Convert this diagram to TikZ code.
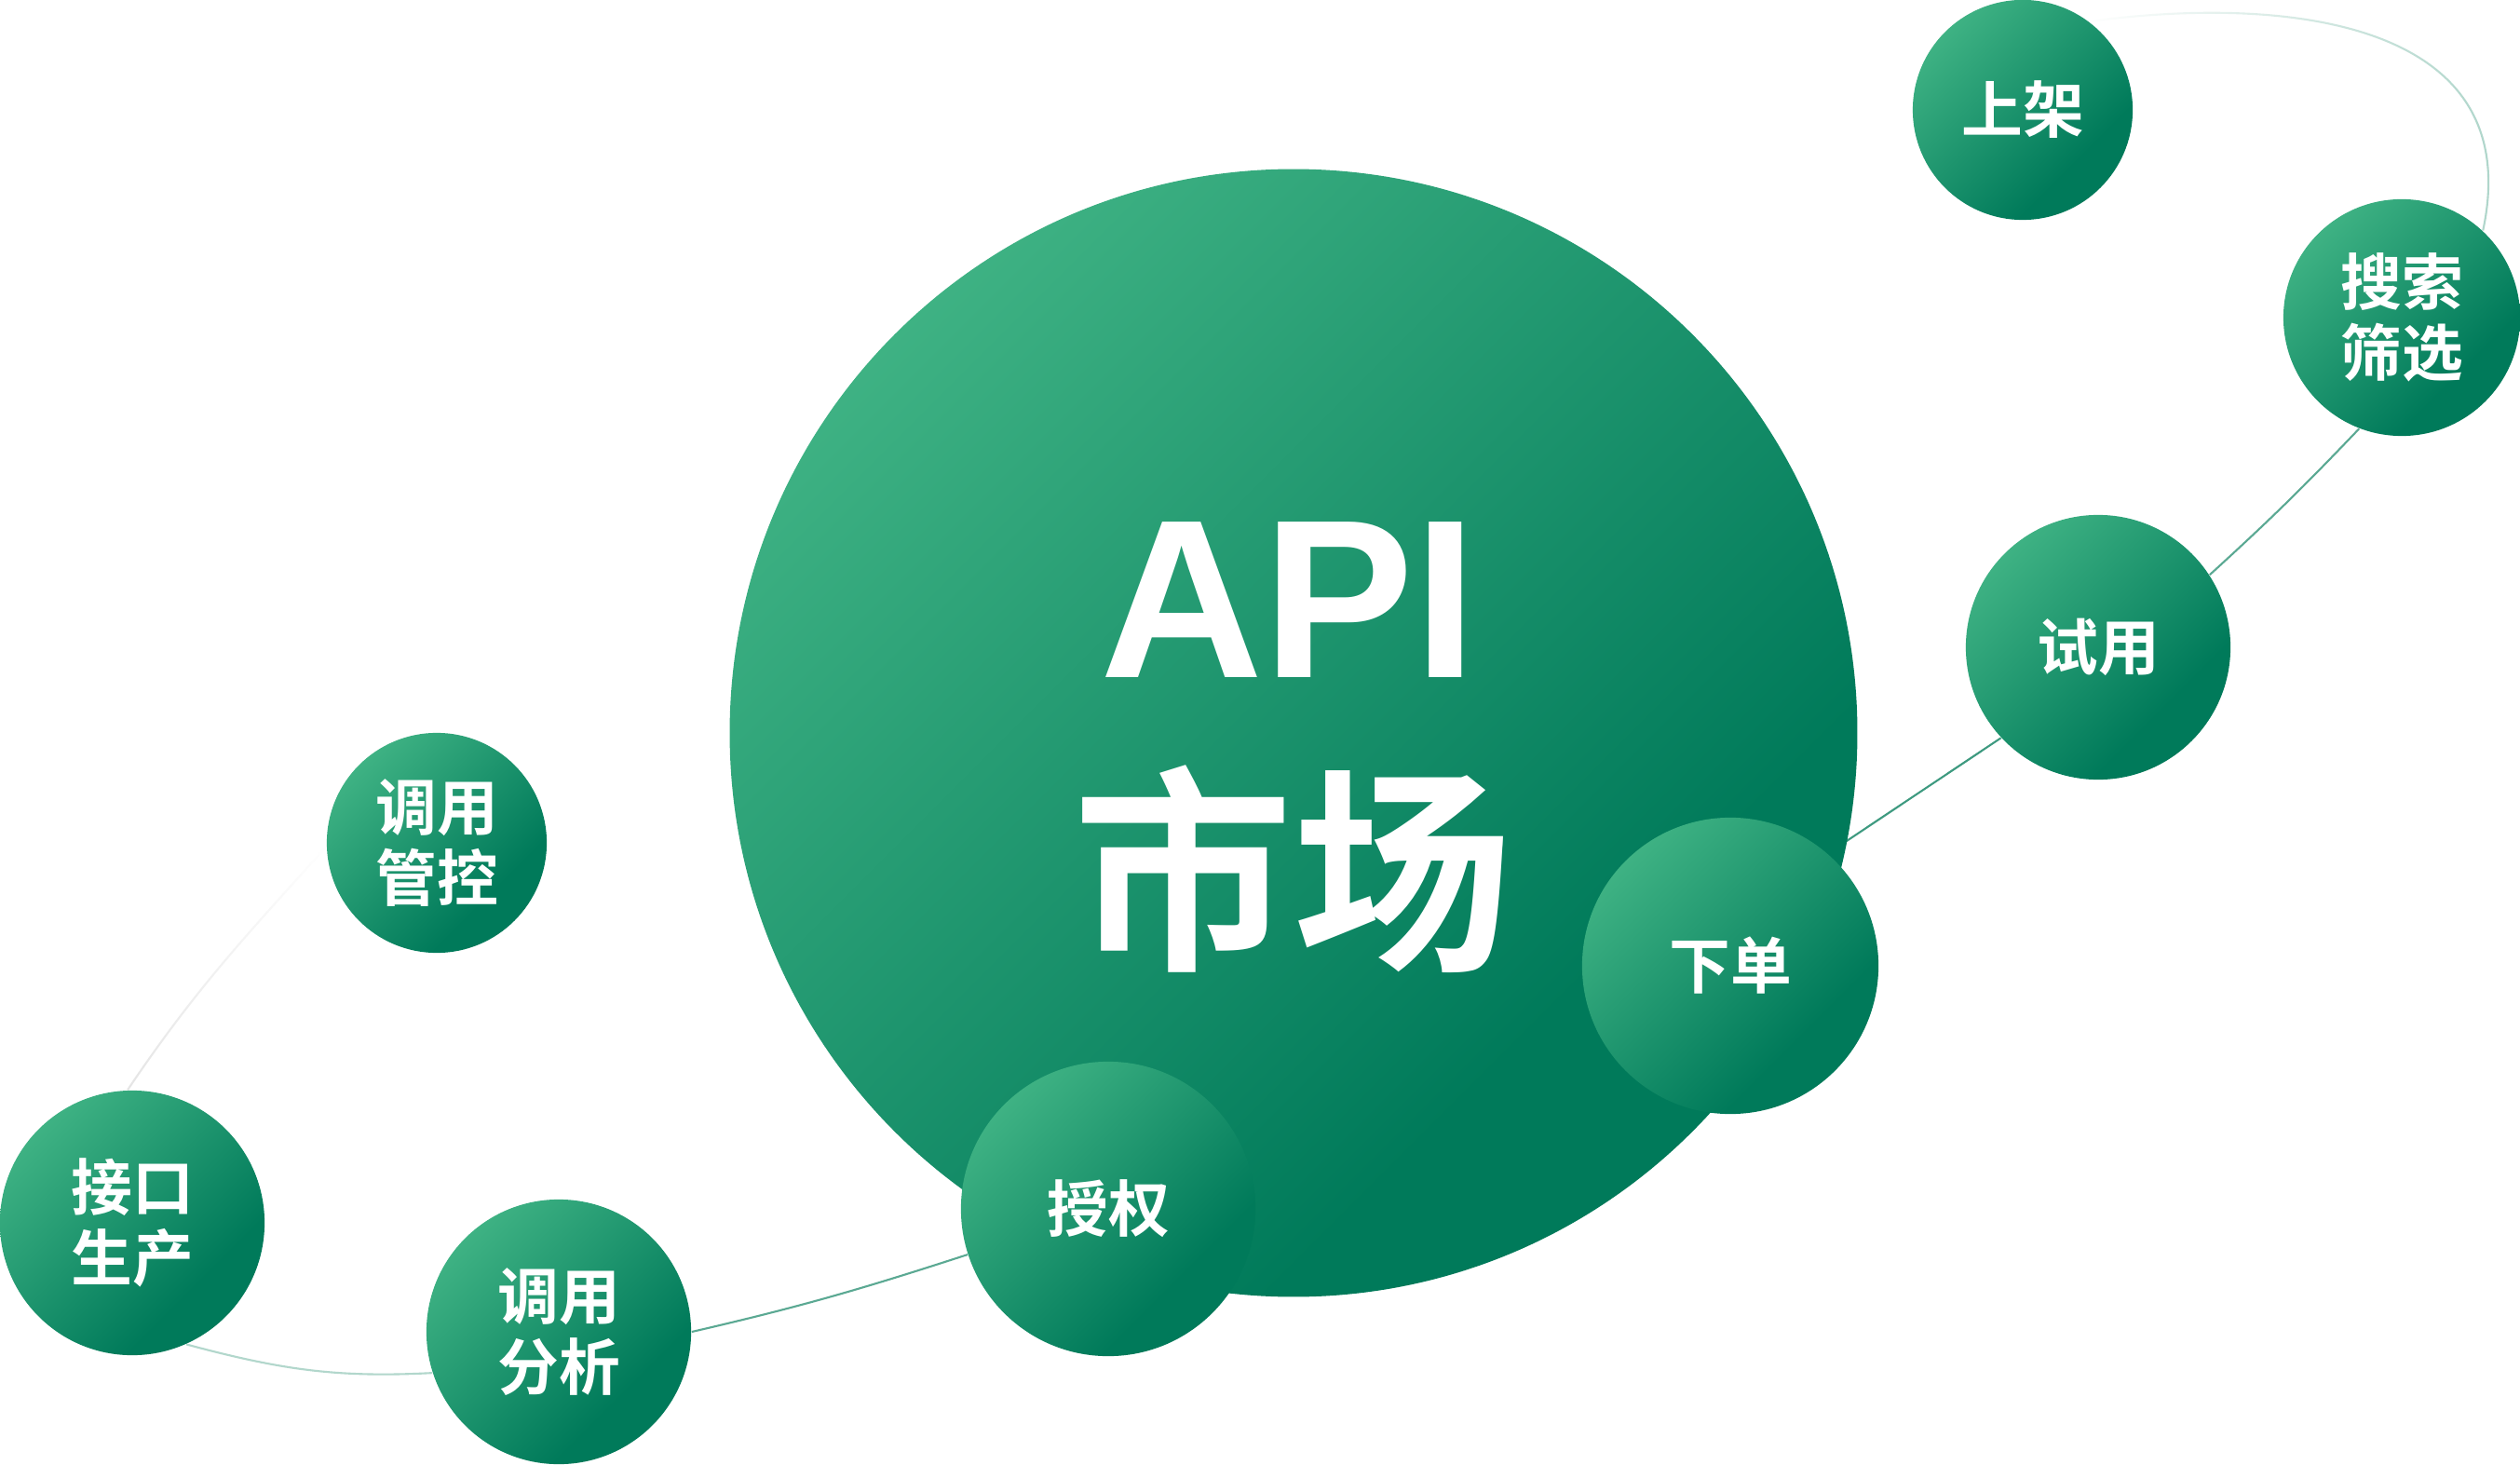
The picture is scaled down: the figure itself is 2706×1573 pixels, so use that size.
\documentclass[tikz,border=0pt]{standalone}
\usepackage{fontspec}
\newfontfamily\cjk{Noto Sans CJK SC}[BoldFont={Noto Sans CJK SC Bold}]
\newfontfamily\apifont{Liberation Sans}
\usetikzlibrary{fadings}

\definecolor{bubblelight}{HTML}{4DBF8D}
\definecolor{bubbledark}{HTML}{007A5A}
\definecolor{orbitgreen}{HTML}{3E9A80}
\pgfdeclarehorizontalshading{bubble}{100bp}{color(0bp)=(bubblelight); color(15bp)=(bubblelight); color(67bp)=(bubbledark); color(100bp)=(bubbledark)}
\tikzfading[name=fadetop, top color=transparent!100, middle color=transparent!100, bottom color=transparent!0]
\pgfdeclarelayer{behind}
\pgfsetlayers{behind,main}

\begin{document}
\begin{tikzpicture}[
    x=0.01cm, y=-0.01cm,
    bubble/.style={circle, inner sep=0pt, minimum size=0.02cm*#1,
        shade, shading=bubble, shading angle=-45, text=white, align=center,
        font=\cjk\bfseries\fontsize{18.7}{21.6}\selectfont},
    orbit/.style={draw=orbitgreen, line width=0.6pt}
]
    \useasboundingbox (0,0) rectangle (2706,1573);

    % Market core
    \node[bubble=605] (core) at (1389,787) {};
    \node[text=white, font=\apifont\bfseries\fontsize{69}{69}\selectfont] (api) at (1384,644) {API};
    \node[text=white, font=\cjk\bfseries\fontsize{67}{67}\selectfont] (market) at (1388,933) {市场};

    % Steps around the core
    \node[bubble=118] (shelf) at (2172,118) {上架};
    \node[bubble=127] (search) at (2579,341) {搜索\\筛选};
    \node[bubble=142] (trial) at (2253,695) {试用};
    \node[bubble=159] (order) at (1858,1037) {下单};
    \node[bubble=158] (grant) at (1190,1298) {授权};
    \node[bubble=142] (stats) at (600,1430) {调用\\分析};
    \node[bubble=142] (build) at (142,1313) {接口\\生产};
    \node[bubble=118] (control) at (469,905) {调用\\管控};

    % Orbit line, behind the bubbles
    \begin{pgfonlayer}{behind}
        \fill[white] (0,0) rectangle (2706,1573);
        \draw[orbit, draw=black!10, path fading=fadetop] (control.182) to[out=228, in=56] (build.92);
        \draw[orbit, draw=orbitgreen!40] (build.-66) to[out=-15, in=183] (stats.198);
        \draw[orbit, draw=orbitgreen!85] (stats.0) to[out=13, in=198] (grant.198);
        \draw[orbit] (order.49) -- (trial.223);
        \draw[orbit, draw=orbitgreen!85] (trial.33) to[bend right=2] (search.249);
        \draw[orbit, draw=orbitgreen!45, path fading=west] (search.47) .. controls (2715,20) and (2450,-5) .. (shelf.53);
    \end{pgfonlayer}

\end{tikzpicture}
\end{document}
